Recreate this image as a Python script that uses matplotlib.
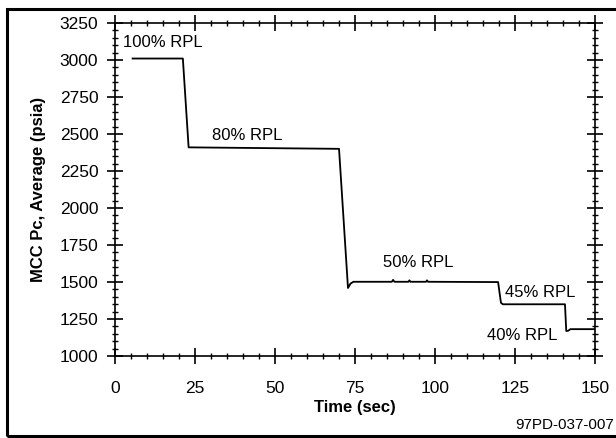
import numpy as np
import matplotlib.pyplot as plt
from matplotlib.ticker import MultipleLocator
from matplotlib.patches import Rectangle

# time (sec) and MCC chamber pressure (psia)
time = [5.5, 21.2, 23.0, 70.0, 72.8, 73.6, 74.5, 86.5, 86.9, 87.3, 91.7, 92.0, 92.3,
        97.2, 97.5, 97.8, 119.7, 120.6, 121.2, 140.6, 141.0, 141.5, 142.3, 150.0]
pc = [3010, 3010, 2410, 2400, 1460, 1490, 1502, 1502, 1515, 1502, 1502, 1512, 1502,
      1502, 1512, 1502, 1500, 1360, 1350, 1350, 1170, 1170, 1182, 1182]

labels = ["100% RPL", "80% RPL", "50% RPL", "45% RPL", "40% RPL"]
label_x = [2.5, 30.3, 83.7, 122.0, 116.3]
label_y = [3115, 2490, 1630, 1430, 1140]

plt.rcParams['font.family'] = ['Liberation Sans Narrow', 'Liberation Sans', 'DejaVu Sans']

fig = plt.figure(figsize=(6.16, 4.38), dpi=100)
ax = fig.add_axes([0.1867, 0.187, 0.7793, 0.7605])

ax.plot(time, pc, color="black", lw=1.3)
for t, x, y in zip(labels, label_x, label_y):
    ax.text(x, y, t, fontsize=12, va="center", ha="left")

ax.set_xlim(0, 150)
ax.set_ylim(1000, 3250)
ax.xaxis.set_major_locator(MultipleLocator(25))
ax.xaxis.set_minor_locator(MultipleLocator(5))
ax.yaxis.set_major_locator(MultipleLocator(250))
ax.yaxis.set_minor_locator(MultipleLocator(50))
ax.tick_params(which="major", direction="inout", length=12, width=1.2, labelsize=12.5,
               top=True, right=True)
ax.tick_params(which="minor", direction="inout", length=5, width=1.0, top=True, right=True)
ax.tick_params(axis="x", which="major", pad=12)
ax.tick_params(axis="y", which="major", pad=6)
for s in ax.spines.values():
    s.set_linewidth(1.2)

ax.set_xlabel("Time (sec)", fontsize=12, fontweight="bold", labelpad=3)
ax.set_ylabel("MCC Pc, Average (psia)", fontsize=12, fontweight="bold", labelpad=10)

fig.text(0.997, 0.03, "97PD-037-007", fontsize=11, ha="right", va="center")
fig.patches.append(Rectangle((0.012, 0.005), 0.99, 0.975, transform=fig.transFigure,
                             fill=False, lw=2.2, color="black"))

fig.savefig("out.png", dpi=100)
